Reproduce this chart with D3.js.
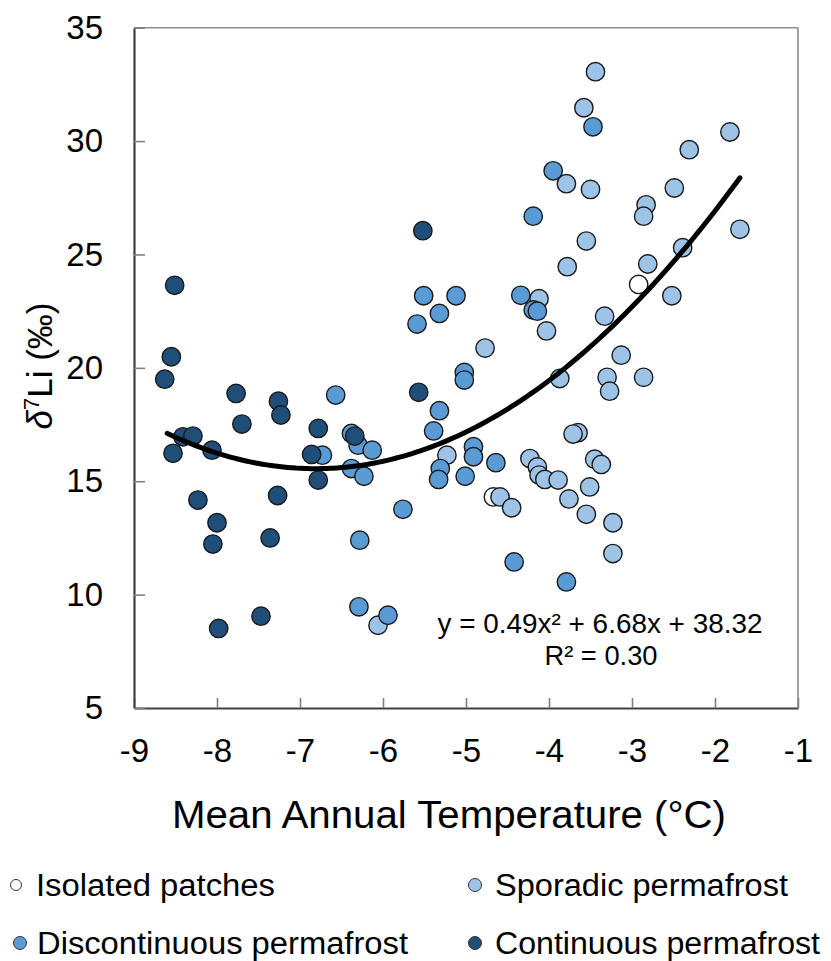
<!DOCTYPE html>
<html lang="en">
<head>
  <meta charset="utf-8">
  <title>d7Li vs mean annual temperature</title>
  <script src="https://cdn.jsdelivr.net/npm/d3@7/dist/d3.min.js"></script>
  <style>
    body { margin: 0; background: #fff; }
    svg text { font-family: "Liberation Sans", Arial, Helvetica, sans-serif; fill: #000; }
  </style>
</head>
<body>
  <svg id="chart" width="831" height="961"></svg>

  <script>
    // categories (legend order) and fills
    var categories = ["Isolated patches", "Sporadic permafrost", "Discontinuous permafrost", "Continuous permafrost"];
    var fills = ["#ffffff", "#9dc3e6", "#5b9bd5", "#1f4e79"];

    // points: [mean annual temperature, d7Li]
    var isolatedPts = [[-2.92, 23.68], [-4.67, 14.31]];
    var sporadicPts = [
      [-3.44, 33.06], [-3.58, 31.47], [-1.82, 30.40], [-2.31, 29.62], [-3.79, 28.12],
      [-3.50, 27.87], [-2.49, 27.93], [-2.83, 27.19], [-2.86, 26.69], [-1.70, 26.11],
      [-3.55, 25.59], [-2.39, 25.30], [-3.78, 24.46], [-2.81, 24.58], [-4.12, 23.05],
      [-2.52, 23.18], [-3.33, 22.28], [-4.03, 21.63], [-4.77, 20.87], [-3.13, 20.56],
      [-3.87, 19.53], [-3.30, 19.58], [-3.27, 18.97], [-2.86, 19.58], [-3.65, 17.14],
      [-3.71, 17.08], [-5.23, 16.15], [-4.23, 16.00], [-4.14, 15.63], [-4.12, 15.27],
      [-4.05, 15.08], [-3.89, 15.05], [-3.45, 15.97], [-3.37, 15.74], [-3.51, 14.75],
      [-4.59, 14.31], [-4.45, 13.83], [-3.76, 14.22], [-3.55, 13.54], [-3.23, 13.17],
      [-3.23, 11.81], [-6.06, 8.65]
    ];
    var discontinuousPts = [
      [-3.47, 30.63], [-3.95, 28.69], [-4.19, 26.69], [-4.34, 23.20], [-4.19, 22.55],
      [-4.14, 22.50], [-5.51, 23.18], [-5.12, 23.18], [-5.32, 22.40], [-5.59, 21.93],
      [-5.02, 19.80], [-5.02, 19.46], [-5.32, 18.11], [-5.39, 17.22], [-4.91, 16.52],
      [-4.91, 16.08], [-4.64, 15.82], [-6.57, 18.80], [-6.73, 16.15], [-6.38, 17.11],
      [-6.30, 16.59], [-6.13, 16.37], [-6.38, 15.56], [-6.23, 15.22], [-5.31, 15.56],
      [-5.33, 15.08], [-5.01, 15.22], [-5.76, 13.76], [-6.28, 12.40], [-6.29, 9.46],
      [-5.94, 9.09], [-4.42, 11.44], [-3.79, 10.56]
    ];
    var continuousPts = [
      [-5.52, 26.05], [-8.51, 23.64], [-8.55, 20.49], [-8.63, 19.50], [-7.77, 18.87],
      [-7.26, 18.53], [-7.23, 17.92], [-7.70, 17.52], [-5.57, 18.92], [-8.41, 16.96],
      [-8.29, 16.99], [-8.53, 16.23], [-8.06, 16.37], [-6.78, 17.33], [-6.86, 16.18],
      [-6.34, 16.99], [-6.78, 15.05], [-8.23, 14.17], [-7.27, 14.37], [-8.00, 13.17],
      [-8.05, 12.23], [-7.36, 12.50], [-7.47, 9.05], [-7.98, 8.51]
    ];
    var seriesPts = [isolatedPts, sporadicPts, discontinuousPts, continuousPts];

    // polynomial trendline as printed on the chart
    var trendCoef = [0.49, 6.68, 38.32];
    var trendRange = [-8.6, -1.7];
    var equationLines = ["y = 0.49x\u00b2 + 6.68x + 38.32", "R\u00b2 = 0.30"];

    var xTicks = [-9, -8, -7, -6, -5, -4, -3, -2, -1];
    var yTicks = [5, 10, 15, 20, 25, 30, 35];

    var svg = d3.select("#chart");
    var x = d3.scaleLinear().domain([-9, -1]).range([134, 798]);
    var y = d3.scaleLinear().domain([5, 35]).range([708, 27.7]);

    // frame top / right
    svg.append("line").attr("x1", x(-9)).attr("x2", x(-1)).attr("y1", y(35)).attr("y2", y(35))
      .attr("stroke", "#8c8c8c").attr("stroke-width", 1.6);
    svg.append("line").attr("x1", x(-1)).attr("x2", x(-1)).attr("y1", y(35)).attr("y2", y(5))
      .attr("stroke", "#8c8c8c").attr("stroke-width", 1.6);

    // axes (plain hyphen for negatives, like the original)
    var plain = function (d) { return String(d); };
    var xAxis = svg.append("g").attr("transform", "translate(0," + y(5) + ")")
      .call(d3.axisBottom(x).tickValues(xTicks).tickFormat(plain).tickSize(-10).tickSizeOuter(0).tickPadding(31));
    var yAxis = svg.append("g").attr("transform", "translate(" + x(-9) + ",0)")
      .call(d3.axisLeft(y).tickValues(yTicks).tickFormat(plain).tickSize(-11).tickSizeOuter(0).tickPadding(31));

    [xAxis, yAxis].forEach(function (g) {
      g.select(".domain").attr("stroke", "#404040").attr("stroke-width", 2.2);
      g.selectAll(".tick line").attr("stroke", "#808080").attr("stroke-width", 1.6);
      g.selectAll(".tick text").attr("font-family", null).style("font-size", "33px").attr("fill", "#000");
    });

    // points
    seriesPts.forEach(function (pts, i) {
      svg.append("g").selectAll("circle").data(pts).join("circle")
        .attr("cx", function (d) { return x(d[0]); })
        .attr("cy", function (d) { return y(d[1]); })
        .attr("r", 9.2)
        .attr("fill", fills[i])
        .attr("stroke", "#1a1a1a")
        .attr("stroke-width", 1.4);
    });

    // trendline
    var trendXs = d3.range(trendRange[0], trendRange[1] + 0.001, 0.05);
    var line = d3.line()
      .x(function (d) { return x(d); })
      .y(function (d) { return y(trendCoef[0] * d * d + trendCoef[1] * d + trendCoef[2]); })
      .curve(d3.curveBasis);
    svg.append("path").datum(trendXs).attr("d", line)
      .attr("fill", "none").attr("stroke", "#000").attr("stroke-width", 5).attr("stroke-linecap", "round");

    // equation
    svg.append("text").attr("x", 600).attr("y", 633).attr("text-anchor", "middle")
      .style("font-size", "27px").attr("textLength", 325).attr("lengthAdjust", "spacingAndGlyphs")
      .text(equationLines[0]);
    svg.append("text").attr("x", 601).attr("y", 665).attr("text-anchor", "middle")
      .style("font-size", "27px").attr("textLength", 113).attr("lengthAdjust", "spacingAndGlyphs")
      .text(equationLines[1]);

    // axis titles
    svg.append("text").attr("x", 449).attr("y", 828).attr("text-anchor", "middle")
      .style("font-size", "38px").attr("textLength", 554).attr("lengthAdjust", "spacingAndGlyphs")
      .text("Mean Annual Temperature (\u00b0C)");

    var yTitle = svg.append("text").attr("transform", "translate(52,366) rotate(-90)")
      .attr("text-anchor", "middle").style("font-size", "35px");
    yTitle.append("tspan").style("font-style", "italic").text("\u03b4");
    yTitle.append("tspan").attr("dy", -13).style("font-size", "22px").text("7");
    yTitle.append("tspan").attr("dy", 13).text("Li (\u2030)");

    // legend
    var legendPos = [[16, 885, 36, 239], [475, 885, 495, 293], [20, 943, 37, 371], [475, 943, 495, 325]];
    var legend = svg.append("g").selectAll("g").data(categories).join("g");
    legend.append("circle")
      .attr("cx", function (d, i) { return legendPos[i][0]; })
      .attr("cy", function (d, i) { return legendPos[i][1]; })
      .attr("r", function (d, i) { return i === 0 ? 5.5 : 6.5; })
      .attr("fill", function (d, i) { return fills[i]; })
      .attr("stroke", "#333").attr("stroke-width", 1);
    legend.append("text")
      .attr("x", function (d, i) { return legendPos[i][2]; })
      .attr("y", function (d, i) { return legendPos[i][1] + 11; })
      .style("font-size", "31px")
      .attr("textLength", function (d, i) { return legendPos[i][3]; })
      .attr("lengthAdjust", "spacingAndGlyphs")
      .text(function (d) { return d; });
  </script>
</body>
</html>
